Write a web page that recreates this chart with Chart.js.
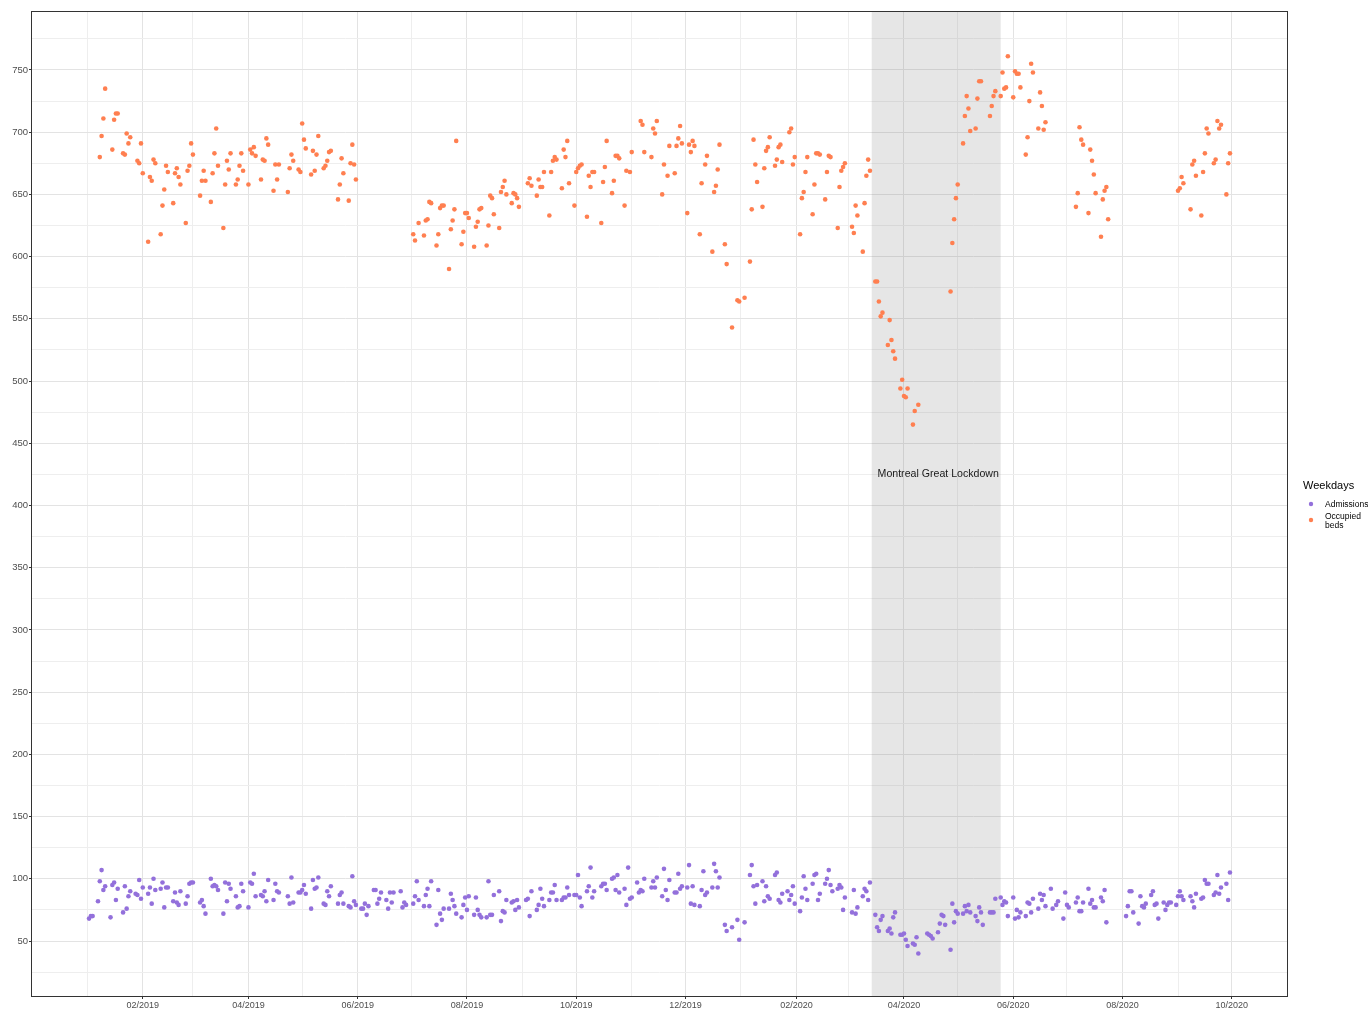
<!DOCTYPE html>
<html>
<head>
<meta charset="utf-8">
<title>Weekday admissions and occupied beds</title>
<script src="https://cdn.jsdelivr.net/npm/chart.js@4/dist/chart.umd.min.js"></script>
<style>
  html, body { margin: 0; padding: 0; background: #ffffff; }
  #wrap { width: 1368px; height: 1010px; }
</style>
</head>
<body>
<div id="wrap"><canvas id="chart" width="1368" height="1010"></canvas></div>
<script>
// Each row is one week, Monday to Friday; null = no record that day.
const firstMonday2019 = '2018-12-31';
const firstMonday2020 = '2020-01-06';

const admissions2019 = [
  null, null, 68, 70, 70,      // 2018-12-31
  82, 98, 107, 91, 94,         // 2019-01-07
  69, 95, 97, 83, 92,
  73, 94, 76, 86, 90,
  88, 87, 99, 84, 93,
  88, 93, 80, 100, 91,         // 2019-02-04
  92, 97, 77, 93, 93,
  82, 89, 81, 79, 90,
  80, 86, 96, 97, 97,
  null, 81, 83, 78, 72,        // 2019-03-04
  100, 94, 95, 94, 91,
  72, 97, 82, 96, 92,
  86, 77, 78, 96, 90,
  77, 97, 96, 104, 86,         // 2019-04-01
  87, 86, 90, 82, 99,
  83, 96, 90, 89, null,
  null, 86, 80, 101, 81,
  89, 89, 91, 95, 88,
  76, 99, 92, 93, 101,         // 2019-05-06
  80, 79, 90, 86, 94,
  null, 80, 87, 89, 80,
  78, 77, 102, 82, 79,
  76, 76, 80, 71, 78,          // 2019-06-03
  91, 91, 80, 84, 89,
  83, 76, 89, 81, 89,
  null, 90, 77, 81, 79,
  null, 80, 86, 98, 83,        // 2019-07-01
  78, 87, 92, 78, 98,
  63, 91, 72, 67, 76,
  76, 88, 83, 78, 72,
  69, 79, 85, 75, 86,
  71, 85, 75, 71, 69,          // 2019-08-05
  69, 98, 71, 71, 87,
  90, 66, 74, 73, 83,
  81, 82, 75, 83, 77,
  null, 83, 84, 70, 90,        // 2019-09-02
  75, 79, 92, 84, 78,
  83, 89, 89, 95, 83,
  83, 85, 85, 93, 87,
  87, 87, 103, 85, 78,
  90, 94, 109, 85, 90,         // 2019-10-07
  null, 94, 96, 96, 91,
  100, 101, 91, 103, 89,
  92, 79, 109, 84, 85,
  97, 89, 91, 90, 100,         // 2019-11-04
  null, 93, 98, 93, 101,
  86, 108, 91, 83, 99,
  89, 89, 104, 92, 94,
  93, 111, 80, 94, 79,         // 2019-12-02
  78, 91, 106, 87, 89,
  93, 112, 106, 93, 101,
  63, 58, null, null, 61,
  67, 51, null, null, 65
];

const admissions2020 = [
  103, 111, 94, 80, 95,        // 2020-01-06
  98, 82, 94, 86, 84,
  103, 105, 83, 81, 88,
  90, 83, 87, 94, 80,
  74, 85, 102, 92, 83,         // 2020-02-03
  96, 103, 104, 83, 88,
  96, 100, 107, 95, 90,
  92, 95, 93, 75, 85,
  null, 73, 91, 72, 77,        // 2020-03-02
  86, 92, 90, 83, 97,
  71, 61, 58, 67, 70,
  58, 60, 56, 69, 73,
  55, 55, 56, 51, 46,
  48, 47, 53, 40, null,        // 2020-04-06
  null, 56, 55, 54, 52,
  57, 64, 71, 70, 63,
  43, 80, 65, 74, 72,
  72, 78, 74, 79, 73,          // 2020-05-04
  70, 66, 77, 73, 63,
  null, 73, 73, 73, 84,
  85, 79, 82, 81, 70,
  85, 68, 75, 69, 73,          // 2020-06-01
  70, 81, 80, 73, 84,
  76, 88, 83, 87, 78,
  92, 76, null, 79, 82,
  68, 89, 79, 77, null,
  81, 85, 74, 74, 81,          // 2020-07-06
  92, 80, 83, 77, 77,
  85, 82, 91, 65, null,
  null, null, null, null, null,
  70, 78, 90, 90, 73,          // 2020-08-03
  64, 86, 78, 77, 80,
  87, 90, 79, 80, 68,
  81, 75, 79, 81, 81,
  79, 86, 90, 86, 83,          // 2020-08-31
  null, 86, 82, 77, 88,
  84, 85, 99, 96, 96,
  87, 89, 103, 88, 93,
  96, 83, 105, null, null
];

const occupiedBeds2019 = [
  null, null, null, null, null,     // 2018-12-31
  null, 680, 697, 711, 735,         // 2019-01-07
  null, 686, 710, 715, 715,
  683, 682, 699, 691, 696,
  null, 677, 675, 691, 667,
  612, 664, 661, 678, 675,          // 2019-02-04
  618, 641, 654, 673, 668,
  643, 667, 671, 664, 658,
  627, 669, 673, 691, 682,
  null, 649, 661, 669, 661,         // 2019-03-04
  644, 667, 683, 703, 673,
  623, 658, 677, 670, 683,
  658, 662, 673, 683, 669,
  658, 686, 683, 688, 681,          // 2019-04-01
  662, 678, 677, 695, 690,
  653, 674, 662, 674, null,
  null, 652, 671, 682, 677,
  670, 668, 707, 694, 687,
  666, 685, 669, 682, 697,          // 2019-05-06
  671, 673, 677, 684, 685,
  null, 646, 658, 679, 667,
  645, 675, 690, 674, 662,
  null, null, null, null, null,     // 2019-06-03
  null, null, null, null, null,
  null, null, null, null, null,
  null, null, null, null, null,
  null, 618, 613, null, 627,        // 2019-07-01
  617, 629, 630, 644, 643,
  609, 618, 639, 641, 641,
  590, 622, 629, 638, 693,
  610, 620, 635, 635, 631,
  608, 624, 628, 638, 639,          // 2019-08-05
  609, 625, 649, 647, 634,
  623, 652, 656, 661, 650,
  643, 651, 650, 647, 640,
  null, null, 659, 663, 657,        // 2019-09-02
  649, 662, 656, 656, 668,
  633, 668, 677, 680, 678,
  655, 686, 680, 693, 659,
  641, 668, 671, 673, 674,
  632, 665, 656, 668, 668,          // 2019-10-07
  null, 627, 660, 672, 693,
  651, 661, 681, 681, 679,
  641, 669, null, 668, 684,
  null, null, 709, 706, 684,        // 2019-11-04
  null, 680, 703, 699, 709,
  650, 674, null, 665, 689,
  667, 689, 695, 705, 691,
  635, 690, 684, 693, 689,          // 2019-12-02
  618, 659, null, 674, 681,
  604, 652, 657, 670, 690,
  610, 594, null, null, 543,
  565, 564, null, null, 567
];

const occupiedBeds2020 = [
  596, 638, 694, 674, 660,          // 2020-01-06
  640, 671, 685, 688, 696,
  673, 678, 688, 690, 676,
  null, 700, 703, 674, 680,
  618, 647, 652, 668, 680,          // 2020-02-03
  634, 658, 683, 683, 682,
  646, 668, 681, 680, null,
  623, 656, 669, 672, 675,
  null, 624, 619, 641, 633,         // 2020-03-02
  604, 643, 665, 678, 669,
  580, 580, 564, 552, 555,
  529, 549, 533, 524, 518,
  494, 501, 488, 487, 494,
  465, 476, null, 481, null,        // 2020-04-06
  null, null, null, null, null,
  null, null, null, null, null,
  572, 611, 630, 647, 658,
  691, 713, 729, 719, 701,          // 2020-05-04
  703, 727, 741, 741, null,
  null, 713, 721, 729, 733,
  729, 748, 735, 736, 761,
  728, 749, 747, 747, 736,          // 2020-06-01
  682, 696, 725, 755, 748,
  703, 732, 721, 702, 708,
  null, null, null, null, null,
  null, null, null, null, null,
  640, 651, 704, 694, 690,          // 2020-07-06
  635, 686, 677, 666, 651,
  616, 646, 653, 656, 630,
  null, null, null, null, null,
  null, null, null, null, null,     // 2020-08-03
  null, null, null, null, null,
  null, null, null, null, null,
  null, null, null, null, null,
  null, 653, 655, 664, 659,         // 2020-08-31
  null, 638, 674, 677, 665,
  633, 668, 683, 703, 699,
  675, 678, 709, 703, 706,
  650, 675, 683, null, null
];

const seriesNames = ['Admissions', 'Occupied beds'];
const legendTitle = 'Weekdays';
const lockdownStart = '2020-03-14';
const lockdownEnd = '2020-05-25';
const lockdownLabel = 'Montreal Great Lockdown';
const lockdownLabelY = 425;

// Axis breaks: every month gets a grid line, even months carry a label.
const xTickLabels = ['02/2019', '04/2019', '06/2019', '08/2019', '10/2019', '12/2019',
                     '02/2020', '04/2020', '06/2020', '08/2020', '10/2020'];
const yTickLabels = [50, 100, 150, 200, 250, 300, 350, 400, 450, 500, 550, 600, 650, 700, 750];
const yLimits = [5.8, 796.6];

const DAY = 86400000;
const FONT = '"Liberation Sans", Arial, Helvetica, sans-serif';

function weekdaySeries(firstMonday, values) {
  const t0 = Date.parse(firstMonday);
  const out = [];
  values.forEach((v, i) => {
    if (v === null) return;
    const week = Math.floor(i / 5), day = i % 5;
    out.push({ x: t0 + (week * 7 + day) * DAY, y: v });
  });
  return out;
}

const admissionPoints = weekdaySeries(firstMonday2019, admissions2019)
  .concat(weekdaySeries(firstMonday2020, admissions2020));
const bedPoints = weekdaySeries(firstMonday2019, occupiedBeds2019)
  .concat(weekdaySeries(firstMonday2020, occupiedBeds2020));

const allX = admissionPoints.concat(bedPoints).map(p => p.x);
const xLo = Math.min(...allX), xHi = Math.max(...allX);
const xPad = (xHi - xLo) * 0.05;

function monthLabel(t) {
  const d = new Date(t);
  return String(d.getUTCMonth() + 1).padStart(2, '0') + '/' + d.getUTCFullYear();
}
function isLabelledMonth(t) {
  return xTickLabels.includes(monthLabel(t));
}

const COL_ADM = '#9370DB';
const COL_BEDS = '#FF7F50';

const decor = {
  id: 'decor',
  beforeDatasetsDraw(chart) {
    const { ctx, chartArea: a, scales: { x, y } } = chart;
    const x0 = x.getPixelForValue(Date.parse(lockdownStart));
    const x1 = x.getPixelForValue(Date.parse(lockdownEnd));
    ctx.save();
    ctx.fillStyle = 'rgba(128,128,128,0.2)';
    ctx.fillRect(x0, a.top, x1 - x0, a.bottom - a.top);
    ctx.fillStyle = '#1a1a1a';
    ctx.font = '10.6px ' + FONT;
    ctx.textAlign = 'center';
    ctx.textBaseline = 'middle';
    ctx.fillText(lockdownLabel, (x0 + x1) / 2 + 2, y.getPixelForValue(lockdownLabelY));
    ctx.restore();
  },
  afterDraw(chart) {
    const { ctx, chartArea: a } = chart;
    ctx.save();
    ctx.strokeStyle = '#333333';
    ctx.lineWidth = 1;
    ctx.strokeRect(a.left - 0.5, a.top - 0.5, a.right - a.left + 1, a.bottom - a.top + 1);

    // legend
    const lx = a.right + 16;
    ctx.fillStyle = '#000000';
    ctx.font = '11px ' + FONT;
    ctx.textAlign = 'left';
    ctx.textBaseline = 'middle';
    ctx.fillText(legendTitle, lx, 486);
    ctx.font = '8.5px ' + FONT;
    ctx.fillStyle = COL_ADM;
    ctx.beginPath(); ctx.arc(lx + 8, 504, 2.2, 0, Math.PI * 2); ctx.fill();
    ctx.fillStyle = COL_BEDS;
    ctx.beginPath(); ctx.arc(lx + 8, 520, 2.2, 0, Math.PI * 2); ctx.fill();
    ctx.fillStyle = '#000000';
    ctx.fillText(seriesNames[0], lx + 22, 504.5);
    const parts = seriesNames[1].split(' ');
    ctx.fillText(parts[0], lx + 22, 516.5);
    ctx.fillText(parts[1], lx + 22, 525.5);
    ctx.restore();
  }
};

Chart.defaults.font.family = FONT;

new Chart(document.getElementById('chart'), {
  type: 'scatter',
  data: {
    datasets: [
      { label: seriesNames[0], data: admissionPoints, backgroundColor: COL_ADM,
        borderWidth: 0, pointRadius: 2.3, pointHoverRadius: 2.3 },
      { label: seriesNames[1], data: bedPoints, backgroundColor: COL_BEDS,
        borderWidth: 0, pointRadius: 2.3, pointHoverRadius: 2.3 }
    ]
  },
  options: {
    responsive: false,
    animation: false,
    devicePixelRatio: 1,
    layout: { padding: { top: 12, right: 81, bottom: 0, left: 0 } },
    plugins: { legend: { display: false }, tooltip: { enabled: false } },
    scales: {
      x: {
        type: 'linear',
        min: xLo - xPad,
        max: xHi + xPad,
        afterBuildTicks(scale) {
          const ticks = [];
          for (let y = 2018; y <= 2020; y++) {
            for (let m = 0; m < 12; m++) {
              const t = Date.UTC(y, m, 1);
              if (t >= scale.min && t <= scale.max) ticks.push({ value: t });
            }
          }
          scale.ticks = ticks;
        },
        afterFit(scale) { scale.height = 14; },
        border: { display: false },
        grid: {
          color: ctx => (ctx.tick && isLabelledMonth(ctx.tick.value)) ? '#E3E3E3' : '#EEEEEE',
          lineWidth: 1,
          drawTicks: true,
          tickLength: 3,
          tickColor: ctx => (ctx.tick && isLabelledMonth(ctx.tick.value)) ? '#333333' : 'rgba(0,0,0,0)'
        },
        ticks: {
          autoSkip: false,
          maxRotation: 0,
          padding: 1,
          color: '#4D4D4D',
          font: { size: 9 },
          callback: v => isLabelledMonth(v) ? monthLabel(v) : ''
        }
      },
      y: {
        type: 'linear',
        min: yLimits[0],
        max: yLimits[1],
        afterBuildTicks(scale) {
          const ticks = [];
          for (let v = 25; v <= scale.max; v += 25) {
            if (v >= scale.min) ticks.push({ value: v });
          }
          scale.ticks = ticks;
        },
        afterFit(scale) { scale.width = 32; },
        border: { display: false },
        grid: {
          color: ctx => (ctx.tick && yTickLabels.includes(ctx.tick.value)) ? '#E3E3E3' : '#EEEEEE',
          lineWidth: 1,
          drawTicks: true,
          tickLength: 3,
          tickColor: ctx => (ctx.tick && yTickLabels.includes(ctx.tick.value)) ? '#333333' : 'rgba(0,0,0,0)'
        },
        ticks: {
          autoSkip: false,
          padding: 1,
          color: '#4D4D4D',
          font: { size: 9.5 },
          callback: v => yTickLabels.includes(v) ? String(v) : ''
        }
      }
    }
  },
  plugins: [decor]
});
</script>
</body>
</html>
